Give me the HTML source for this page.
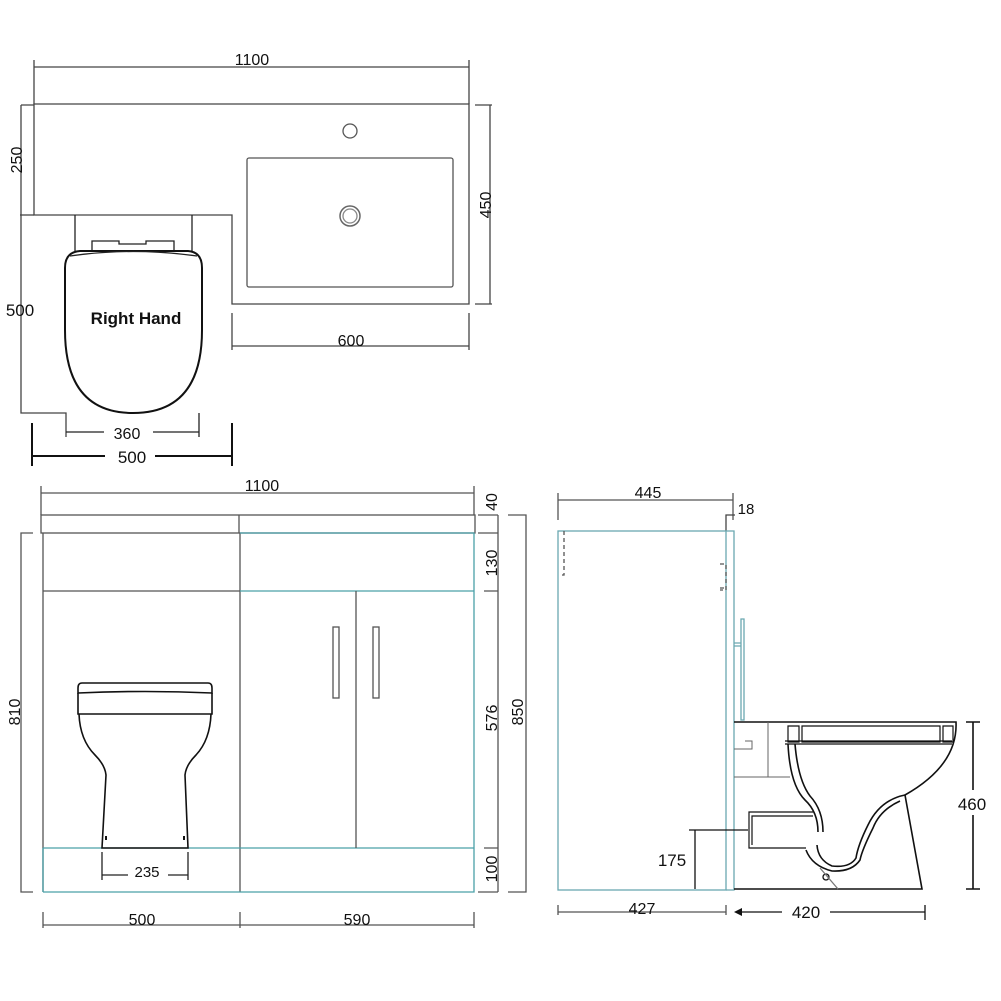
<!DOCTYPE html>
<html><head><meta charset="utf-8"><style>
html,body{margin:0;padding:0;background:#fff}
svg{display:block}
text{font-family:"Liberation Sans",Arial,sans-serif;fill:#111}
</style></head><body>
<svg width="1001" height="1001" viewBox="0 0 1001 1001" xmlns="http://www.w3.org/2000/svg">
<g fill="none" stroke="#444" stroke-width="1.3">
<!-- TOP VIEW -->
<path d="M34 104 H469 V304 H232 V215 H34 Z"/>
<path d="M34 215 H20"/>
<!-- 1100 dim -->
<path d="M34 67 H469 M34 60 V104 M469 60 V104"/>
<!-- 250 dim -->
<path d="M21 105 V215 M21 105 H34"/>
<!-- 450 dim -->
<path d="M490 105 V304 M475 105 H492 M475 304 H492"/>
<!-- 600 dim -->
<path d="M232 346 H469 M232 313 V350 M469 313 V350"/>
<!-- 500 left dim -->
<path d="M21 215 V413 H66 V437"/>
<path d="M66 432 H104 M153 432 H199 M199 413 V437" stroke="#222"/>
<!-- 500 bottom -->
<path d="M32 456 H105 M155 456 H232 M32 423 V466 M232 423 V466" stroke="#111" stroke-width="2"/>
<!-- toilet top -->
<path d="M75 215 V251 M192 215 V251" stroke="#222"/>
<path d="M92 251 V241 H119 V244 H146 V241 H174 V251" stroke="#222"/>
<path d="M80 251 H188 Q202 252 202 268 V330 Q202 413 133 413 Q65 413 65 330 V268 Q65 252 80 251 Z" stroke="#111" stroke-width="2"/>
<path d="M70 256 Q133 247 197 256" stroke="#222"/>
<!-- basin -->
<rect x="247" y="158" width="206" height="129" rx="2" stroke="#555"/>
<circle cx="350" cy="131" r="7" stroke="#555"/>
<circle cx="350" cy="216" r="10" stroke="#666" stroke-width="1.5"/>
<circle cx="350" cy="216" r="7" stroke="#888"/>

<!-- FRONT VIEW -->
<path d="M41 493 H474 M41 486 V515 M474 486 V515" stroke="#555"/>
<rect x="41" y="515" width="434" height="18" stroke="#555"/>
<path d="M239 515 V533" stroke="#555"/>
<path d="M43 533 V892 M43 591 H240 M240 533 V892" stroke="#555"/>
<g stroke="#4aa0a8">
<path d="M240 533 H474 V892 H43 M240 591 H474 M43 848 H474 M43 848 V892"/>
</g>
<path d="M356 591 V848" stroke="#555"/>
<rect x="333" y="627" width="6" height="71" stroke="#555"/>
<rect x="373" y="627" width="6" height="71" stroke="#555"/>
<!-- right dims front -->
<path d="M498 515 V892 M478 515 H498 M478 533 H498 M484 591 H498 M484 848 H498 M478 892 H498" stroke="#555"/>
<path d="M508 515 H526 V892 H508" stroke="#555"/>
<!-- 810 -->
<path d="M33 533 H21 V892 H33" stroke="#555"/>
<!-- 500/590 -->
<path d="M43 925 H474 M43 912 V928 M240 912 V928 M474 912 V928" stroke="#555"/>
<!-- toilet front -->
<g stroke="#111" stroke-width="1.6">
<path d="M82 683 H208 Q212 683 212 688 V693 Q145 690 78 693 V688 Q78 683 82 683 Z"/>
<path d="M78 693 V714 H212 V693"/>
<path d="M79 714 Q80 740 95 755 Q105 765 106 775 L102 848 H188 L185 775 Q186 765 196 755 Q210 740 211 714"/>
<path d="M106 836 V840 M184 836 V840" stroke-width="2"/>
</g>
<path d="M102 852 V880 M102 875 H128 M168 875 H188 M188 852 V880" stroke="#222"/>

<!-- SIDE VIEW -->
<path d="M558 500 H733 M558 493 V520 M733 493 V520" stroke="#555"/>
<path d="M726 531 V515 H735" stroke="#444"/>
<g stroke="#6aa8b0">
<rect x="558" y="531" width="168" height="359"/>
<path d="M726 531 H734 V890 H726"/>
<path d="M741 619 V720 H744 V619 Z M734 643 H741 M734 646 H741"/>
</g>
<path d="M564 531 V575 H561 M720 564 H726 V590 H720 M720 588 H726" stroke="#555" stroke-dasharray="4 3"/>
<!-- toilet side -->
<g stroke="#111" stroke-width="1.6">
<path d="M734 722 H956 Q958 765 905 795 L922 889 H734"/>
<path d="M905 795 Q880 800 868 825 Q858 845 856 858 Q850 868 832 866 Q818 860 817 845"/>
<path d="M900 801 Q880 810 873 828 Q862 850 860 860 Q852 872 832 871 Q812 866 806 850"/>
<path d="M788 744 Q790 785 805 800 Q818 812 818 832"/>
<path d="M795 744 Q798 780 810 796 Q823 810 823 832"/>
<path d="M785 744 H952 M785 741 H952" stroke-width="1.2"/>
<path d="M788 726 H799 V742 H788 Z M802 726 H940 V742 H802 Z M943 726 H953 V742 H943 Z" stroke-width="1.2"/>
<path d="M813 812 H749 V848 H806 M813 816 H752 V845" stroke-width="1.2"/>
</g>
<circle cx="826" cy="877" r="3" stroke="#111"/>
<path d="M820 868 L838 889" stroke="#777"/>
<path d="M768 722 V777 M734 777 H790 M745 741 H752 V749 H734" stroke="#666" stroke-width="1"/>
<!-- 460 -->
<path d="M966 722 H980 M973 722 V790 M973 815 V889 M966 889 H980" stroke="#111" stroke-width="1.6"/>
<!-- 175 -->
<path d="M689 830 H748 M695 830 V889" stroke="#111" stroke-width="1.3"/>
<!-- 427 -->
<path d="M558 912 H726 M558 905 V915 M726 905 V915" stroke="#555"/>
<!-- 420 -->
<path d="M738 912 H782 M830 912 H925 M925 905 V920" stroke="#111" stroke-width="1.3"/>
<path d="M734 912 L742 908 L742 916 Z" fill="#111" stroke="none"/>
</g>

<!-- TEXT -->
<text x="252" y="65" font-size="16" text-anchor="middle">1100</text>
<text transform="translate(22,160) rotate(-90)" font-size="16" text-anchor="middle">250</text>
<text transform="translate(491,205) rotate(-90)" font-size="16" text-anchor="middle">450</text>
<text x="351" y="346" font-size="16" text-anchor="middle">600</text>
<text x="20" y="316" font-size="17" text-anchor="middle">500</text>
<text x="136" y="324" font-size="17" font-weight="bold" text-anchor="middle">Right Hand</text>
<text x="127" y="439" font-size="16" text-anchor="middle" fill="#333">360</text>
<text x="132" y="463" font-size="17" text-anchor="middle">500</text>

<text x="262" y="491" font-size="16" text-anchor="middle">1100</text>
<text transform="translate(497,502) rotate(-90)" font-size="16" text-anchor="middle">40</text>
<text transform="translate(497,563) rotate(-90)" font-size="16" text-anchor="middle">130</text>
<text transform="translate(497,718) rotate(-90)" font-size="16" text-anchor="middle">576</text>
<text transform="translate(497,869) rotate(-90)" font-size="16" text-anchor="middle">100</text>
<text transform="translate(523,712) rotate(-90)" font-size="16" text-anchor="middle">850</text>
<text transform="translate(20,712) rotate(-90)" font-size="16" text-anchor="middle">810</text>
<text x="147" y="877" font-size="15" text-anchor="middle" fill="#333">235</text>
<text x="142" y="925" font-size="16" text-anchor="middle">500</text>
<text x="357" y="925" font-size="16" text-anchor="middle">590</text>

<text x="648" y="498" font-size="16" text-anchor="middle">445</text>
<text x="746" y="514" font-size="15" text-anchor="middle">18</text>
<text x="642" y="914" font-size="16" text-anchor="middle">427</text>
<text x="806" y="918" font-size="17" text-anchor="middle">420</text>
<text x="972" y="810" font-size="17" text-anchor="middle">460</text>
<text x="672" y="866" font-size="17" text-anchor="middle">175</text>
</svg>
</body></html>
